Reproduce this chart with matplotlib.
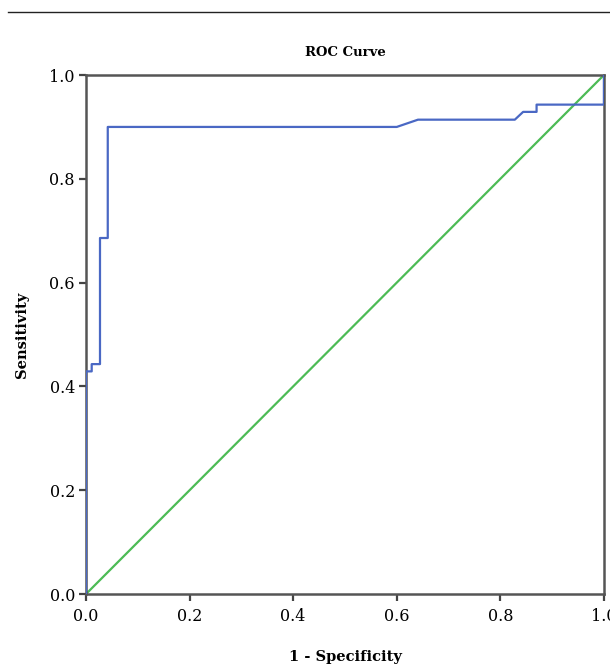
import matplotlib.pyplot as plt
from matplotlib.lines import Line2D

# ROC curve points (1 - specificity, sensitivity)
fpr = [0.0, 0.0, 0.011, 0.011, 0.027, 0.027, 0.042, 0.042, 0.600, 0.641,
       0.828, 0.844, 0.870, 0.870, 1.0, 1.0]
tpr = [0.0, 0.429, 0.429, 0.443, 0.443, 0.686, 0.686, 0.900, 0.900, 0.914,
       0.914, 0.929, 0.929, 0.943, 0.943, 1.0]
ref_line = [0.0, 1.0]
ticks = [0.0, 0.2, 0.4, 0.6, 0.8, 1.0]

plt.rcParams["font.family"] = ["DejaVu Serif"]

fig = plt.figure(figsize=(6.1, 6.7), dpi=100)
ax = fig.add_axes([0.141, 0.1134, 0.849, 0.7746])

ax.plot(ref_line, ref_line, color="#4cbb55", lw=1.6, zorder=2)
ax.plot(fpr, tpr, color="#4a68c4", lw=1.6, zorder=3)

ax.set_xlim(0, 1)
ax.set_ylim(0, 1)
ax.set_xticks(ticks)
ax.set_yticks(ticks)
ax.set_xticklabels([f"{t:.1f}" for t in ticks])
ax.set_yticklabels([f"{t:.1f}" for t in ticks])
ax.tick_params(direction="out", length=5, width=1.6, color="#444444",
               labelsize=11.5, pad=3)
ax.tick_params(axis="x", pad=5)
for sp in ax.spines.values():
    sp.set_linewidth(1.8)
    sp.set_color("#555555")

ax.set_title("ROC Curve", fontsize=9.5, fontweight="bold", pad=14)
ax.set_xlabel("1 - Specificity", fontsize=10.5, fontweight="bold")
ax.set_ylabel("Sensitivity", fontsize=10.5, fontweight="bold")
ax.xaxis.set_label_coords(0.5, -0.121)
ax.yaxis.set_label_coords(-0.124, 0.5)
ax.xaxis.label.set_va("center")
ax.yaxis.label.set_va("center")

# separator rule across the top
fig.add_artist(Line2D([0.013, 1.0], [0.982, 0.982], color="#222222", lw=1.0,
                      transform=fig.transFigure))

fig.savefig("out.png", dpi=100)
